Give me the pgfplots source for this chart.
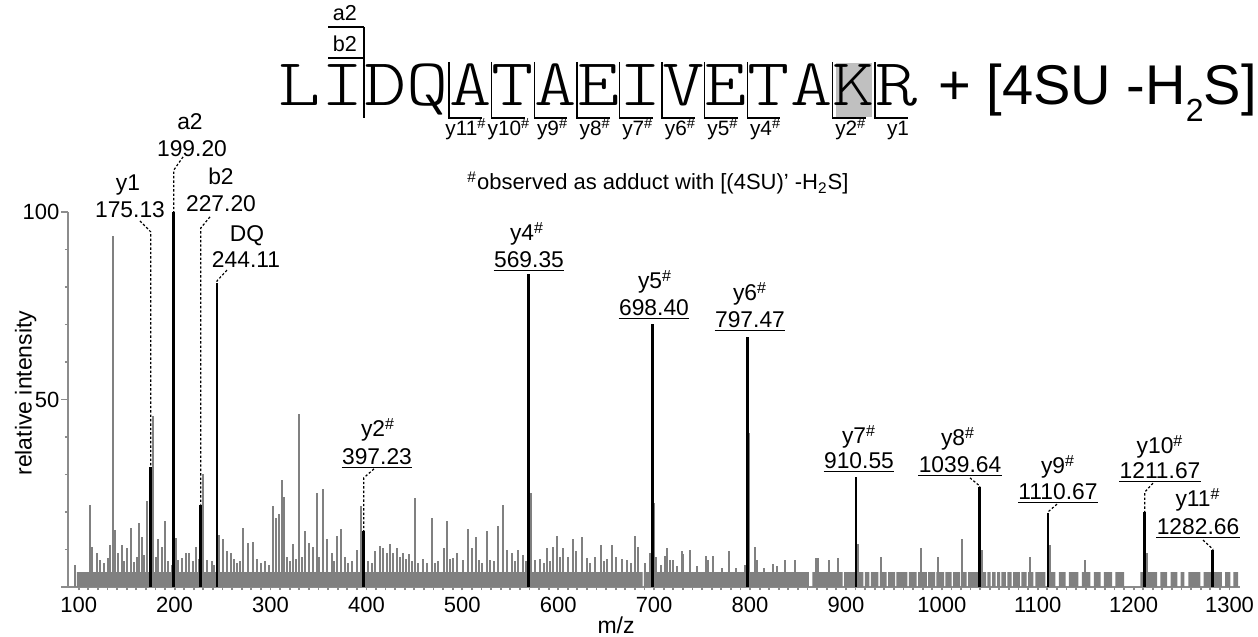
\documentclass[border=0pt]{standalone}
\usepackage{pgfplots}
\pgfplotsset{compat=1.18}
\usepackage{fontspec}
\setmainfont{Liberation Sans}
\newfontfamily\seqfont{lmmonolt10-regular.otf}[FakeStretch=1.2]
\definecolor{noise}{RGB}{128,128,128}
\definecolor{axisgray}{RGB}{140,140,140}
\definecolor{kbox}{RGB}{192,192,192}
\begin{document}
\begin{tikzpicture}
\useasboundingbox (-34pt,-25pt) rectangle (595pt,293.5pt);
\begin{axis}[
  x=0.4795pt, y=1.875pt,
  xmin=88.84, xmax=1311, ymin=0, ymax=100,
  axis x line*=bottom, axis y line*=left,
  axis line style={axisgray, line width=1pt},
  tick align=outside,
  xtick={100,200,...,1300},
  minor x tick num=9,
  ytick={0,50,100}, yticklabels={,50,100},
  minor y tick num=4,
  major tick length=3.3pt, minor tick length=1.6pt,
  tick style={axisgray, line width=0.9pt},
  xtick style={/pgfplots/major tick length=1.7pt},
  clip=false,
  /pgf/number format/assume math mode=true,
  /pgf/number format/1000 sep={},
  tick label style={font=\fontsize{11}{13}\selectfont, black},
  xticklabel style={inner sep=1.5pt},
  yticklabel style={inner sep=0.8pt},
  xlabel={m/z}, ylabel={relative intensity},
  label style={font=\fontsize{11.5}{13}\selectfont},
  x label style={at={(axis description cs:0.4676,-0.1253)}, anchor=base},
  y label style={at={(axis description cs:-0.031,0.517)}, anchor=base, rotate=0},
]
% baseline noise band
\addplot[draw=none, fill=noise] coordinates {
(98,0)(98,4)(688,4)(688,0)(689.2,0)(689.2,4)
(861.5,4)(861.5,0)(865,0)(865,4)
(896.6,4)(896.6,0)(898.1,0)(898.1,4)
(918.2,4)(918.2,0)(919.7,0)(919.7,4)
(924.4,4)(924.4,0)(925.9,0)(925.9,4)
(933.8,4)(933.8,0)(935.3,0)(935.3,4)
(942.5,4)(942.5,0)(944,0)(944,4)
(951.2,4)(951.2,0)(952.7,0)(952.7,4)
(964.1,4)(964.1,0)(965.6,0)(965.6,4)
(973.8,4)(973.8,0)(975.3,0)(975.3,4)
(984.3,4)(984.3,0)(985.8,0)(985.8,4)
(992.9,4)(992.9,0)(994.4,0)(994.4,4)
(1002.3,4)(1002.3,0)(1003.8,0)(1003.8,4)
(1010.3,4)(1010.3,0)(1011.8,0)(1011.8,4)
(1019,4)(1019,0)(1020.5,0)(1020.5,4)
(1026,4)(1026,0)(1027.5,0)(1027.5,4)
(1046.1,4)(1046.1,0)(1047.6,0)(1047.6,4)
(1051,4)(1051,0)(1052.5,0)(1052.5,4)
(1056.2,4)(1056.2,0)(1057.7,0)(1057.7,4)
(1060.7,4)(1060.7,0)(1062.2,0)(1062.2,4)
(1066.9,4)(1066.9,0)(1068.4,0)(1068.4,4)
(1072.9,4)(1072.9,0)(1074.4,0)(1074.4,4)
(1081.5,4)(1081.5,0)(1083,0)(1083,4)
(1088.5,4)(1088.5,0)(1090,0)(1090,4)
(1095.4,4)(1095.4,0)(1097.5,0)(1097.5,4)
(1108,4)(1108,0)(1111,0)(1111,4)
(1118.5,4)(1118.5,0)(1122,0)(1122,4)
(1129,4)(1129,0)(1132.5,0)(1132.5,4)
(1142.5,4)(1142.5,0)(1146,0)(1146,4)
(1155,4)(1155,0)(1158.5,0)(1158.5,4)
(1165.5,4)(1165.5,0)(1169,0)(1169,4)
(1177.5,4)(1177.5,0)(1181,0)(1181,4)
(1190,4)(1190,0)(1207,0)(1207,4)
(1224.5,4)(1224.5,0)(1228,0)(1228,4)
(1235,4)(1235,0)(1238.5,0)(1238.5,4)
(1245.5,4)(1245.5,0)(1249,0)(1249,4)
(1253,4)(1253,0)(1257,0)(1257,4)
(1269.5,4)(1269.5,0)(1273,0)(1273,4)
(1292,4)(1292,0)(1295.5,0)(1295.5,4)
(1301,4)(1301,0)(1304,0)(1304,4)
(1309,4)(1309,0)
} \closedcycle;
% noise peaks
\addplot[ycomb, draw=noise, line width=1pt, mark=none] table {
x y
96.1 6.0
111.8 21.8
114.2 10.6
118.8 9.2
122.2 7.3
126.0 6.5
130.6 7.7
132.6 11.3
135.5 93.6
137.9 15.2
141.3 9.2
144.8 11.1
147.5 7.0
150.1 10.4
154.2 15.8
157.5 6.8
160.5 8.0
163.2 17.1
165.7 13.4
168.5 8.5
171.5 22.9
177.8 45.7
180.6 8.0
183.0 12.9
186.5 10.7
190.0 17.7
193.5 7.0
197.0 6.0
201.5 13.2
203.9 7.3
207.4 7.7
211.9 9.0
215.3 9.0
218.8 7.0
222.3 10.7
225.0 7.5
229.3 30.0
233.5 7.3
238.7 7.0
241.5 6.0
246.6 14.0
250.2 12.7
254.3 9.5
258.5 9.2
261.5 7.5
264.8 6.3
268.0 7.0
271.6 15.8
276.9 11.8
282.1 12.0
286.0 7.5
290.0 6.5
294.0 7.0
298.0 6.0
302.3 21.6
305.7 18.3
309.2 19.4
311.7 28.4
314.1 24.0
317.5 8.0
320.5 7.0
323.8 11.5
327.0 7.5
330.0 46.0
332.5 8.0
336.0 15.0
340.5 11.8
344.0 10.7
348.2 25.0
351.0 8.0
354.4 26.0
358.6 12.9
363.8 9.0
366.5 7.0
369.0 13.6
373.2 15.6
377.7 8.0
381.0 6.5
385.0 7.0
389.9 9.9
394.4 21.6
402.0 7.0
405.5 6.5
409.0 9.7
414.2 11.0
417.6 10.4
421.0 9.0
424.6 11.4
428.0 9.0
431.6 10.4
435.0 8.0
438.5 9.0
441.5 7.5
444.7 8.8
447.5 7.0
450.7 23.7
454.0 6.5
459.3 7.5
463.0 6.5
468.1 18.5
471.5 6.5
475.0 7.0
480.9 10.5
483.7 17.6
487.0 7.5
490.6 7.8
494.8 9.2
500.4 7.3
506.3 15.6
509.8 10.4
514.3 13.4
517.7 7.3
521.0 6.5
525.4 15.0
528.9 7.3
533.0 7.0
537.5 16.4
542.1 21.8
546.3 9.9
551.5 9.2
554.5 7.0
557.8 9.9
563.0 8.5
566.0 7.0
571.3 25.0
575.8 7.3
581.0 7.5
585.0 6.5
588.6 10.4
591.5 7.0
594.9 10.7
599.1 13.6
602.0 8.0
605.3 10.5
610.5 8.0
615.7 12.9
618.6 9.5
624.5 13.4
629.7 7.7
633.5 6.5
638.4 8.0
644.3 11.2
647.5 7.0
650.6 7.5
655.8 11.2
660.3 8.0
666.2 7.5
671.4 7.3
675.5 6.5
680.1 13.7
683.5 10.7
690.0 6.5
695.9 9.2
700.0 22.3
702.1 8.0
707.0 6.0
711.5 8.4
713.1 10.4
716.6 7.3
720.0 7.1
724.0 5.5
728.8 9.5
730.5 8.8
737.4 9.9
745.0 5.5
754.1 8.3
756.5 7.1
761.7 8.3
770.5 5.0
778.4 9.7
785.4 5.0
794.8 6.0
799.3 41.0
805.2 10.6
807.0 7.3
815.0 5.0
824.3 6.1
827.8 5.5
836.5 7.1
846.9 7.1
868.8 7.7
870.6 7.7
882.7 7.3
892.1 7.7
913.0 11.6
936.6 8.0
977.8 10.5
996.4 8.0
1021.3 12.8
1041.6 10.0
1092.0 8.0
1112.8 11.3
1149.3 7.3
1213.7 9.2
};
% assigned fragment peaks
\addplot[ycomb, draw=black, line width=1.4pt, mark=none] coordinates {
(175.13,32) (199.20,100) (227.20,22) (244.11,81) (397.23,15)
(569.35,83.5) (698.40,70) (797.47,66.7) (910.55,29.3)
(1039.64,26.7) (1110.67,19.7) (1211.67,20) (1282.66,9.9)
};
% dotted connectors
\begin{scope}[line width=0.6pt, dash pattern=on 1.2pt off 1pt]
\draw (axis cs:163.9,97.6) -- (axis cs:175.13,94.7) -- (axis cs:175.13,32);
\draw (axis cs:208.8,114.7) -- (axis cs:199.20,111.2) -- (axis cs:199.20,100);
\draw (axis cs:236.9,98.7) -- (axis cs:227.20,95.7) -- (axis cs:227.20,22);
\draw (axis cs:254.6,84.5) -- (axis cs:244.11,81.6) -- (axis cs:244.11,81);
\draw (axis cs:407.9,31.5) -- (axis cs:397.23,29.1) -- (axis cs:397.23,15);
\draw (axis cs:1029.4,29.1) -- (axis cs:1039.64,26.9) -- (axis cs:1039.64,26.7);
\draw (axis cs:1120.1,22.1) -- (axis cs:1110.67,20) -- (axis cs:1110.67,19.7);
\draw (axis cs:1220.2,27.7) -- (axis cs:1211.67,25.3) -- (axis cs:1211.67,20);
\draw (axis cs:1272.4,12.5) -- (axis cs:1282.66,10.1) -- (axis cs:1282.66,9.9);
\end{scope}
\end{axis}
% annotations in picture pixels
\begin{scope}[x=0.5pt,y=-0.5pt,shift={(-34pt,293.5pt)},
  lab/.style={inner sep=0pt, anchor=base, font=\fontsize{11.4}{13}\selectfont},
  ul/.style={line width=0.75pt}]
\newcommand{\plab}[6]{%
  \node[lab] at (#1,#2) {#3};
  \node[lab] (tmp) at (#4,#5) {#6};}
\newcommand{\ulab}[6]{%
  \node[lab] at (#1,#2) {#3\textsuperscript{\#}};
  \node[lab] (tmp) at (#4,#5) {#6};
  \draw[ul] ([yshift=-1.2pt]tmp.base west) -- ([yshift=-1.2pt]tmp.base east);}
\plab{128}{191}{y1}{130}{218}{175.13}
\plab{190}{130}{a2}{192}{157}{199.20}
\plab{221}{185}{b2}{221}{212}{227.20}
\plab{247}{242}{DQ}{246}{268}{244.11}
\ulab{378}{437}{y2}{377}{465}{397.23}
\ulab{527}{241}{y4}{529}{268}{569.35}
\ulab{655}{289}{y5}{654}{316}{698.40}
\ulab{750}{301}{y6}{750}{328}{797.47}
\ulab{859}{444}{y7}{859}{469}{910.55}
\ulab{958}{446}{y8}{960}{473}{1039.64}
\ulab{1058}{474}{y9}{1058}{500}{1110.67}
\ulab{1160}{454}{y10}{1160}{479}{1211.67}
\ulab{1198}{507}{y11}{1198}{535}{1282.66}
% footnote
\node[lab, font=\fontsize{11}{13}\selectfont] at (658,190) {\textsuperscript{\#}observed as adduct with [(4SU)’ -H\textsubscript{2}S]};
% sequence
\fill[kbox] (836,63) rectangle (872,117);
\foreach \c/\x in {L/300,I/342.6,D/385.2,Q/427.8,A/470.4,T/513,A/555.6,E/598.2,I/640.8,V/683.4,E/726,T/768.6,A/811.2,K/853.8,R/896.4}
  \node[inner sep=0pt, anchor=base, font=\seqfont\fontsize{33.5}{34}\selectfont] at (\x,106) {\c};
\foreach \x in {449.1,491.7,534.3,576.9,619.5,662.1,704.7,747.3,832.5,875.1}
  \draw[line width=0.7pt] (\x,62) -- (\x,118) -- (\x+33,118);
\foreach \x/\t in {466/y11,509/y10,552.6/y9,595.2/y8,637.8/y7,680.4/y6,723/y5,765.6/y4,850.8/y2}
  \node[lab, font=\fontsize{10.4}{12}\selectfont] at (\x,136) {\t\textsuperscript{\#}};
\node[lab, font=\fontsize{10.4}{12}\selectfont] at (898,136) {y1};
\draw[line width=0.7pt] (328,27) -- (364,27);
\draw[line width=0.7pt] (328,58) -- (364,58);
\draw[line width=0.7pt] (364,27) -- (364,118);
\node[lab, font=\fontsize{10.8}{12}\selectfont] at (345,21) {a2};
\node[lab, font=\fontsize{10.8}{12}\selectfont] at (345,52) {b2};
\node[inner sep=0pt, anchor=base east, font=\fontsize{28}{30}\selectfont] at (1257,105) {+ [4SU -H\raisebox{-8.5pt}{\fontsize{16}{16}\selectfont 2}S]};
\end{scope}
\end{tikzpicture}
\end{document}
